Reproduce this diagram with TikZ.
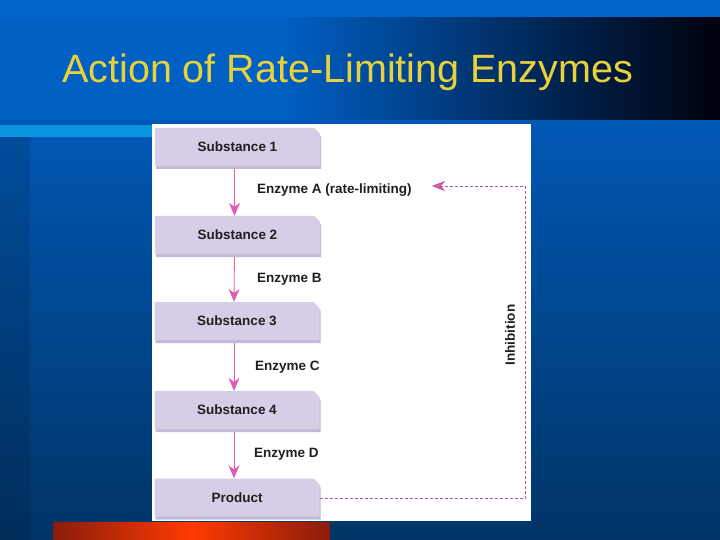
\documentclass[tikz,border=0pt]{standalone}
\usepackage{fontspec}
\setmainfont{Liberation Sans}
\usetikzlibrary{shapes.misc,arrows.meta,shadows}
\definecolor{topblue}{HTML}{0066CC}
\definecolor{bandblue}{HTML}{0060C4}
\definecolor{bodytop}{HTML}{0058B4}
\definecolor{bodybot}{HTML}{003466}
\definecolor{stripblue}{HTML}{0A96DE}
\definecolor{titleyellow}{HTML}{E8D23C}
\definecolor{lav}{HTML}{D6CDE6}
\definecolor{lavdark}{HTML}{C2B8D8}
\definecolor{arrowpink}{HTML}{E05CB4}
\definecolor{inhib}{HTML}{B8509A}
\definecolor{rededge}{HTML}{8A1C0A}
\definecolor{redmid}{HTML}{FF3A00}
\tikzset{
  subst/.style={chamfered rectangle, chamfered rectangle corners={north east},
    chamfered rectangle xsep=3pt, chamfered rectangle ysep=3pt,
    fill=lav, minimum width=165pt, minimum height=38pt,
    drop shadow={shadow xshift=1pt, shadow yshift=-3pt, fill=lavdark, opacity=1},
    inner sep=0pt, font=\fontsize{13.5}{16}\selectfont\bfseries, text=black!88},
  enz/.style={anchor=west, inner sep=0pt, font=\fontsize{13.5}{16}\selectfont\bfseries, text=black!88},
  step arrow/.style={draw=arrowpink, line width=0.8pt, -{Stealth[length=13pt,width=11pt]}},
  inhib arrow/.style={draw=inhib, line width=0.9pt, densely dashed, -{Stealth[length=13pt,width=10pt,fill=arrowpink]}}
}
\begin{document}
\begin{tikzpicture}[x=1pt,y=-1pt]
\useasboundingbox (0,0) rectangle (720,540);
% background
\shade[top color=bodytop, bottom color=bodybot] (0,120) rectangle (720,540);
\fill[black, opacity=0.12] (0,137) rectangle (30,540);
\fill[topblue] (0,0) rectangle (720,18);
\fill[bandblue] (0,18) rectangle (280,120);
\shade[left color=bandblue, right color=black!95!blue] (280,18) rectangle (720,120);
\fill[stripblue] (0,125) rectangle (152,137);
\shade[left color=rededge, right color=rededge, middle color=redmid] (53,522) rectangle (330,540);
% title
\node[anchor=base west, inner sep=0pt, text=titleyellow, font=\fontsize{39.5}{44}\selectfont] (title) at (62,83) {Action of Rate-Limiting Enzymes};
% panel
\fill[white] (152,124) rectangle (531,521);
% boxes
\node[subst] (s1) at (237.5,147) {Substance 1};
\node[subst] (s2) at (237.5,235) {Substance 2};
\node[subst] (s3) at (237,321) {Substance 3};
\node[subst] (s4) at (237,410) {Substance 4};
\node[subst] (prod) at (237,497.5) {Product};
% enzymes
\node[enz] (ea) at (257,190) {Enzyme A (rate-limiting)};
\node[enz] (eb) at (257,279) {Enzyme B};
\node[enz] (ec) at (255,367) {Enzyme C};
\node[enz] (ed) at (254,454) {Enzyme D};
% step arrows
\draw[step arrow] ([xshift=-3pt,yshift=-3pt]s1.south) -- ([xshift=-3pt]s2.north);
\draw[step arrow] ([xshift=-3pt,yshift=-3pt]s2.south) -- ([xshift=-3pt]s3.north);
\draw[step arrow] ([xshift=-3pt,yshift=-3pt]s3.south) -- ([xshift=-3pt]s4.north);
\draw[step arrow] ([xshift=-3pt,yshift=-3pt]s4.south) -- ([xshift=-3pt]prod.north);
% inhibition
\coordinate (c1) at (525,498.5);
\coordinate (c2) at (525,186);
\coordinate (tip) at (432,186);
\draw[inhib arrow] (prod.east |- c1) -- (c1) -- (c2) -- (tip);
\node[rotate=90, inner sep=0pt, font=\fontsize{13.5}{16}\selectfont\bfseries, text=black!88] (inh) at (510,335) {Inhibition};
\end{tikzpicture}
\end{document}
